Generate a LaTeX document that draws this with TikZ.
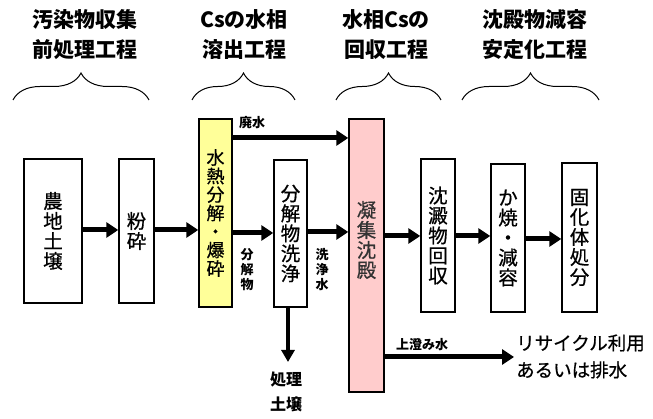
\documentclass[tikz,border=0pt]{standalone}
\usepackage{fontspec}
\setmainfont{Noto Sans CJK JP}
\newfontfamily\bxfont[FakeBold=0.7]{Noto Sans CJK JP}
\usetikzlibrary{arrows.meta,decorations.pathreplacing}
\definecolor{ylw}{HTML}{FFFF99}
\definecolor{pnk}{HTML}{FFCCCC}
\definecolor{dk}{HTML}{333333}
\begin{document}
\begin{tikzpicture}[x=1pt,y=-1pt,
 box/.style={draw,line width=1.5pt,inner sep=0pt,align=center,font=\bxfont\fontsize{19.5}{20}\selectfont},
 flow/.style={line width=5pt,-{Triangle[length=12pt,width=15pt]}},
 small/.style={font=\bfseries\fontsize{13}{15}\selectfont,inner sep=0pt,align=center},
 ttl/.style={font=\bfseries\fontsize{21}{30}\selectfont,align=center,inner sep=0pt},
 brc/.style={decorate,decoration={brace,amplitude=27pt},line width=1pt}]
\useasboundingbox (0,0) rectangle (653,419);
% titles
\node[ttl] (t1) at (84.5,35) {汚染物収集\\前処理工程};
\node[ttl] (t2) at (244,35) {Csの水相\\溶出工程};
\node[ttl] (t3) at (386,35) {水相Csの\\回収工程};
\node[ttl] (t4) at (535,35) {沈殿物減容\\安定化工程};
% braces
\draw[brc] (13,100) -- (149,100);
\draw[brc] (192,100) -- (295,100);
\draw[brc] (336,100) -- (441,100);
\draw[brc] (462,100) -- (599,100);
% boxes
\node[box,minimum width=58pt,minimum height=144pt] (soil) at (53,231) {農\\地\\土\\壌};
\node[box,minimum width=35pt,minimum height=144pt] (crush) at (136.5,231) {粉\\砕};
\node[box,fill=ylw,minimum width=33pt,minimum height=188pt,font=\bxfont\fontsize{18}{18.5}\selectfont] (hydro) at (215.5,213) {水\\熱\\分\\解\\・\\爆\\砕};
\node[box,minimum width=33pt,minimum height=147pt] (wash) at (290.5,233.5) {分\\解\\物\\洗\\浄};
\node[box,fill=pnk,minimum width=35pt,minimum height=273pt] (coag) at (366.5,255.5) {};
\node[inner sep=0pt,align=center,text=dk,font=\bxfont\fontsize{19.5}{20}\selectfont] (coagtxt) at (366.5,240) {凝\\集\\沈\\殿};
\node[box,minimum width=34pt,minimum height=153pt] (recov) at (438,235.5) {沈\\澱\\物\\回\\収};
\node[box,minimum width=34pt,minimum height=148pt] (calc) at (508,238) {か\\焼\\・\\減\\容};
\node[box,minimum width=35pt,minimum height=149pt] (solid) at (579.5,237.5) {固\\化\\体\\処\\分};
% labels
\node[small] (lw) at (252,123) {廃水};
\node[small] (l1) at (247,270) {分\\解\\物};
\node[small] (l2) at (322,270) {洗\\浄\\水};
\node[small] (l3) at (422,345) {上澄み水};
\node[font=\bxfont\fontsize{18.5}{27}\selectfont,align=left,anchor=west,inner sep=0pt] (rec) at (516,356.5) {リサイクル利用\\あるいは排水};
\node[font=\bfseries\fontsize{16}{25}\selectfont,align=center,inner sep=0pt] (treated) at (286,392) {処理\\土壌};
\coordinate (down) at (288,362);
% arrows
\draw[flow] (soil.east |- 0,230) -- (crush.west |- 0,230);
\draw[flow] (crush.east |- 0,230) -- (hydro.west |- 0,230);
\draw[flow] (hydro.east |- 0,233) -- (wash.west |- 0,233);
\draw[flow] (wash.east |- 0,232) -- (coag.west |- 0,232);
\draw[flow] (hydro.east |- 0,138) -- (coag.west |- 0,138);
\draw[flow] (coag.east |- 0,236) -- (recov.west |- 0,236);
\draw[flow] (recov.east |- 0,236) -- (calc.west |- 0,236);
\draw[flow] (calc.east |- 0,239) -- (solid.west |- 0,239);
\draw[flow,shorten >=2pt] (coag.east |- 0,357) -- (rec.west |- 0,357);
\draw[line width=4pt,-{Triangle[length=12pt,width=13pt]}] (wash.south -| down) -- (down);
\end{tikzpicture}
\end{document}
